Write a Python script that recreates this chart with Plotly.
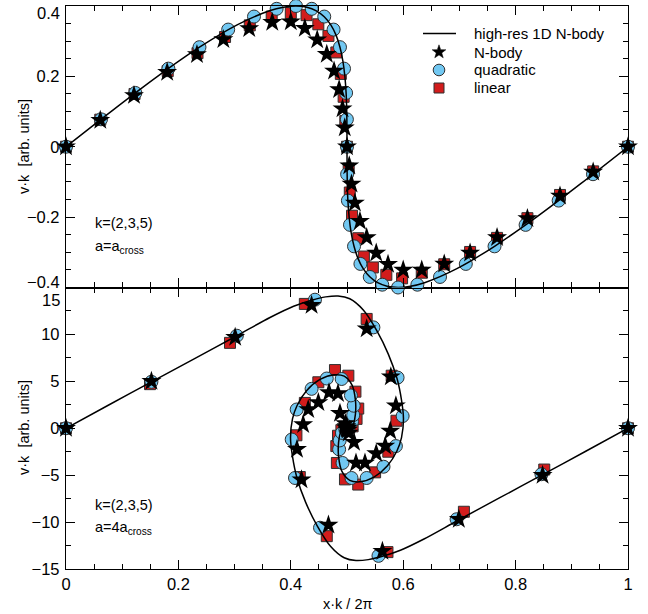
import math
import plotly.graph_objects as go

# ---------------- top panel (a = a_cross) ----------------
top_line_x = [0, 0.0829, 0.1629, 0.2375, 0.3045, 0.3621, 0.3870, 0.4092, 0.4286, 0.4454,
              0.4595, 0.4712, 0.4805, 0.4875, 0.4927, 0.4962, 0.4984, 0.4995, 0.4999, 0.5,
              0.5001, 0.5005, 0.5016, 0.5038, 0.5073, 0.5125, 0.5195, 0.5288, 0.5405, 0.5546,
              0.5714, 0.5908, 0.6130, 0.6379, 0.6955, 0.7625, 0.8371, 0.9171, 1.0]
top_line_v = [0, 0.1035, 0.2, 0.2828, 0.3464, 0.3864, 0.3966, 0.4, 0.3966, 0.3864,
              0.3696, 0.3464, 0.3173, 0.2828, 0.2435, 0.2, 0.1531, 0.1035, 0.0522, 0,
              -0.0522, -0.1035, -0.1531, -0.2, -0.2435, -0.2828, -0.3173, -0.3464, -0.3696, -0.3864,
              -0.3966, -0.4, -0.3966, -0.3864, -0.3464, -0.2828, -0.2, -0.1035, 0]

top_star_x = [0, 0.061, 0.121, 0.180, 0.233, 0.280, 0.326, 0.367, 0.400, 0.425, 0.447, 0.464,
              0.477, 0.486, 0.492, 0.496, 0.500, 0.504, 0.508, 0.514, 0.523, 0.535, 0.552,
              0.573, 0.600, 0.633, 0.673, 0.719, 0.767, 0.821, 0.879, 0.938, 1.0]
top_star_v = [0, 0.075, 0.146, 0.212, 0.262, 0.305, 0.336, 0.354, 0.355, 0.337, 0.304, 0.263,
              0.215, 0.163, 0.108, 0.054, 0, -0.054, -0.106, -0.160, -0.212, -0.258, -0.302,
              -0.334, -0.350, -0.350, -0.333, -0.302, -0.258, -0.204, -0.140, -0.072, 0]

top_quad_x = [0, 0.0623, 0.1234, 0.1822, 0.2375, 0.2886, 0.3345, 0.3748, 0.4092, 0.4373, 0.4595,
              0.4761, 0.4875, 0.4947, 0.4984, 0.4998, 0.5, 0.5002, 0.5016, 0.5053, 0.5125, 0.5239,
              0.5405, 0.5627, 0.5908, 0.6252, 0.6655, 0.7114, 0.7625, 0.8178, 0.8766, 0.9377, 1.0]
top_quad_v = [0, 0.078, 0.153, 0.222, 0.283, 0.333, 0.370, 0.392, 0.400, 0.392, 0.370,
              0.333, 0.283, 0.222, 0.153, 0.078, 0, -0.078, -0.153, -0.222, -0.283, -0.333,
              -0.370, -0.392, -0.400, -0.392, -0.370, -0.333, -0.283, -0.222, -0.153, -0.078, 0]

top_lin_x = [0, 0.061, 0.122, 0.181, 0.234, 0.283, 0.327, 0.366, 0.400, 0.428, 0.449, 0.467,
             0.481, 0.489, 0.494, 0.497, 0.500, 0.503, 0.505, 0.509, 0.520, 0.530, 0.546,
             0.570, 0.598, 0.633, 0.673, 0.719, 0.767, 0.821, 0.879, 0.938, 1.0]
top_lin_v = [0, 0.077, 0.150, 0.215, 0.266, 0.312, 0.345, 0.370, 0.380, 0.374, 0.348, 0.315,
             0.268, 0.207, 0.142, 0.073, 0, -0.062, -0.130, -0.196, -0.260, -0.312, -0.343,
             -0.364, -0.374, -0.358, -0.334, -0.299, -0.259, -0.203, -0.137, -0.070, 0]

# ---------------- bottom panel (a = 4 a_cross) ----------------
bot_line_x = [0, 0.076, 0.152, 0.228, 0.304, 0.363, 0.405, 0.437, 0.462, 0.484, 0.505, 0.529,
              0.553, 0.5735, 0.589, 0.597, 0.6005, 0.597, 0.589, 0.572, 0.548, 0.523, 0.505,
              0.491, 0.485, 0.485, 0.489, 0.494, 0.501, 0.504, 0.5,
              0.496, 0.499, 0.506, 0.511, 0.515, 0.515, 0.509, 0.495, 0.477, 0.452, 0.428,
              0.411, 0.403, 0.3995, 0.403, 0.411, 0.4265, 0.447, 0.471, 0.495, 0.516, 0.538,
              0.563, 0.595, 0.637, 0.696, 0.772, 0.848, 0.924, 1.0]
bot_line_v = [0, 2.48, 4.95, 7.4, 9.86, 11.8, 13.0, 13.65, 14.0, 14.1, 13.8, 12.6,
              10.4, 7.9, 5.3, 3.0, 1.0, -1.0, -2.4, -4.0, -5.2, -5.7, -5.55,
              -4.6, -3.0, -1.5, -0.3, 0.4, 0.5, 0.1, 0,
              -0.1, -0.5, -0.4, 0.3, 1.5, 3.0, 4.6, 5.55, 5.7, 5.2, 4.0,
              2.4, 1.0, -1.0, -3.0, -5.3, -7.9, -10.4, -12.6, -13.8, -14.1, -14.0,
              -13.65, -13.0, -11.8, -9.86, -7.4, -4.95, -2.48, 0]

bot_star_x = [0, 0.152, 0.301, 0.437, 0.535, 0.578, 0.587, 0.577, 0.568, 0.552, 0.532, 0.516,
              0.5125, 0.503, 0.501, 0.500, 0.500, 0.500, 0.499, 0.497, 0.4875, 0.484, 0.468,
              0.449, 0.431, 0.422, 0.411, 0.419, 0.467, 0.563, 0.699, 0.848, 1.0]
bot_star_v = [0, 5.0, 9.7, 13.1, 10.6, 5.5, 2.4, -0.3, -1.9, -2.7, -3.7, -3.7,
              -1.5, -0.5, -0.2, -0.05, 0, 0.05, 0.2, 0.5, 1.6, 3.7, 3.8,
              2.75, 2.0, 0.4, -2.25, -5.5, -10.3, -13.1, -9.7, -5.0, 0]

bot_quad_x = [0, 0.152, 0.304, 0.443, 0.547, 0.590, 0.599, 0.587, 0.565, 0.535, 0.508, 0.492,
              0.486, 0.487, 0.491, 0.497, 0.500, 0.503, 0.509, 0.511, 0.512, 0.507, 0.4905,
              0.464, 0.437, 0.4105, 0.4016, 0.4075, 0.452, 0.556, 0.695, 0.846, 1.0]
bot_quad_v = [0, 4.95, 9.86, 13.7, 10.75, 5.4, 1.3, -1.9, -4.1, -5.3, -5.3, -3.7,
              -2.25, -1.3, -0.5, -0.1, 0, 0.1, 0.7, 1.4, 2.4, 3.5, 5.25,
              5.3, 4.2, 2.0, -1.2, -5.3, -10.6, -13.6, -9.7, -4.9, 0]

bot_lin_x = [0, 0.1495, 0.2918, 0.425, 0.535, 0.5795, 0.588, 0.5735, 0.550, 0.520, 0.4964, 0.482,
             0.481, 0.484, 0.490, 0.496, 0.500, 0.504, 0.510, 0.517, 0.520, 0.515, 0.5024,
             0.4786, 0.449, 0.425, 0.410, 0.416, 0.464, 0.572, 0.708, 0.851, 1.0]
bot_lin_v = [0, 4.7, 9.1, 13.25, 11.65, 5.6, 0.8, -2.5, -4.7, -6.0, -5.45, -3.7,
             -1.9, -0.8, -0.2, -0.05, 0, 0.05, 0.2, 1.0, 2.1, 3.9, 5.6,
             6.2, 4.9, 2.7, -0.75, -5.2, -11.5, -13.2, -8.9, -4.4, 0]

x_ticks = [0, 0.2, 0.4, 0.6, 0.8, 1]
x_tick_text = ["0", "0.2", "0.4", "0.6", "0.8", "1"]
top_y_ticks = [-0.2, 0, 0.2]
top_y_text = ["\u22120.2", "0", "0.2"]
bot_y_ticks = [-15, -10, -5, 0, 5, 10]
bot_y_text = ["\u221215", "\u221210", "\u22125", "0", "5", "10"]
legend_names = ["high-res 1D N-body", "N-body", "quadratic", "linear"]

FONT = "Liberation Sans, Arial, Helvetica, sans-serif"
BLUE = "#72C8F2"
RED = "#D21C1C"
EDGE = "#303030"

fig = go.Figure()


def add_panel(xa, ya, lx, lv, sx, sv, qx, qv, mx, mv):
    fig.add_trace(go.Scatter(x=mx, y=mv, mode="markers", name=legend_names[3], xaxis=xa, yaxis=ya,
                             marker=dict(symbol="square", size=11, color=RED,
                                         line=dict(color=EDGE, width=1)),
                             cliponaxis=False, showlegend=False))
    fig.add_trace(go.Scatter(x=qx, y=qv, mode="markers", name=legend_names[2], xaxis=xa, yaxis=ya,
                             marker=dict(symbol="circle", size=13, color=BLUE,
                                         line=dict(color=EDGE, width=1)),
                             cliponaxis=False, showlegend=False))
    fig.add_trace(go.Scatter(x=sx, y=sv, mode="markers", name=legend_names[1], xaxis=xa, yaxis=ya,
                             marker=dict(symbol="star", size=15, color="black",
                                         line=dict(color="black", width=0)),
                             cliponaxis=False, showlegend=False))
    fig.add_trace(go.Scatter(x=lx, y=lv, mode="lines", name=legend_names[0],
                             xaxis=xa, yaxis=ya,
                             line=dict(color="black", width=1.5, shape="spline", smoothing=0.8),
                             showlegend=False))


add_panel("x2", "y2", top_line_x, top_line_v, top_star_x, top_star_v,
          top_quad_x, top_quad_v, top_lin_x, top_lin_v)
add_panel("x", "y", bot_line_x, bot_line_v, bot_star_x, bot_star_v,
          bot_quad_x, bot_quad_v, bot_lin_x, bot_lin_v)

axis_common = dict(showline=True, linecolor="black", linewidth=1.3, mirror="allticks",
                   ticks="inside", ticklen=9, tickwidth=1.3, tickcolor="black",
                   showgrid=False, zeroline=False,
                   tickfont=dict(family=FONT, size=16.5, color="black"))
minor_common = dict(ticks="inside", ticklen=5, tickwidth=1.1, tickcolor="black")

fig.update_layout(
    width=648, height=614,
    margin=dict(l=66, r=20, t=6, b=45),
    paper_bgcolor="white", plot_bgcolor="white",
    font=dict(family=FONT, color="black"),
    xaxis=dict(domain=[0, 1], anchor="y", range=[0, 1], tickvals=x_ticks, ticktext=x_tick_text,
               minor=dict(dtick=0.05, **minor_common), **axis_common),
    xaxis2=dict(domain=[0, 1], anchor="y2", range=[0, 1], matches="x", tickvals=x_ticks,
                showticklabels=False, minor=dict(dtick=0.05, **minor_common), **axis_common),
    yaxis=dict(domain=[0, 0.5], anchor="x", range=[-15, 15], tickvals=bot_y_ticks,
               ticktext=bot_y_text, ticklabelstandoff=2,
               minor=dict(dtick=2.5, **minor_common), **axis_common),
    yaxis2=dict(domain=[0.5, 1], anchor="x2", range=[-0.4, 0.4], tickvals=top_y_ticks,
                ticktext=top_y_text, ticklabelstandoff=2,
                minor=dict(dtick=0.05, **minor_common), **axis_common),
    showlegend=False,
)


def px2paper(px, py):
    return (px - 66) / 562, (569 - py) / 563


def ann(text, px, py, size, xanchor="left", angle=0):
    x, y = px2paper(px, py)
    fig.add_annotation(text=text, x=x, y=y, xref="paper", yref="paper", showarrow=False,
                       xanchor=xanchor, yanchor="middle", textangle=angle,
                       font=dict(family=FONT, size=size, color="black"))


# shifted edge tick labels
ann("0.4", 62, 13, 16.5, xanchor="right")
ann("\u22120.4", 62, 282, 16.5, xanchor="right")
ann("15", 62, 300, 16.5, xanchor="right")

# axis titles
ann("v\u00b7k \u00a0[arb. units]", 24, 147, 14.5, xanchor="center", angle=-90)
ann("v\u00b7k \u00a0[arb. units]", 24, 428, 14.5, xanchor="center", angle=-90)
ann("x\u00b7k / 2\u03c0", 347, 604, 14.5, xanchor="center")

# panel labels
ann("k=(2,3,5)", 93, 223, 14.5)
ann("a=a<sub>cross</sub>", 93, 247, 14.5)
ann("k=(2,3,5)", 93, 505, 14.5)
ann("a=4a<sub>cross</sub>", 93, 528, 14.5)

# ---- legend (drawn in paper coordinates) ----
leg_rows_py = [33.5, 52, 70, 88]
sym_px = 439
for name, py in zip(legend_names, leg_rows_py):
    ann(name, 472, py, 15)

x0, y0 = px2paper(423, leg_rows_py[0])
x1, _ = px2paper(456, leg_rows_py[0])
fig.add_shape(type="line", xref="paper", yref="paper", x0=x0, y0=y0, x1=x1, y1=y0,
              line=dict(color="black", width=1.6))

# star glyph
pts = []
for k in range(10):
    r = 7.2 if k % 2 == 0 else 2.9
    ang = math.pi / 2 + k * math.pi / 5
    pts.append(px2paper(sym_px + r * math.cos(ang), leg_rows_py[1] - r * math.sin(ang)))
path = "M " + " L ".join(f"{a:.5f},{b:.5f}" for a, b in pts) + " Z"
fig.add_shape(type="path", xref="paper", yref="paper", path=path,
              fillcolor="black", line=dict(color="black", width=0.5))

# circle glyph
cx0, cy0 = px2paper(sym_px - 5.8, leg_rows_py[2] + 5.8)
cx1, cy1 = px2paper(sym_px + 5.8, leg_rows_py[2] - 5.8)
fig.add_shape(type="circle", xref="paper", yref="paper", x0=cx0, y0=cy0, x1=cx1, y1=cy1,
              fillcolor=BLUE, line=dict(color=EDGE, width=1))

# square glyph
sx0, sy0 = px2paper(sym_px - 5, leg_rows_py[3] + 5)
sx1, sy1 = px2paper(sym_px + 5, leg_rows_py[3] - 5)
fig.add_shape(type="rect", xref="paper", yref="paper", x0=sx0, y0=sy0, x1=sx1, y1=sy1,
              fillcolor=RED, line=dict(color=EDGE, width=1))

fig.write_html("out.html")
